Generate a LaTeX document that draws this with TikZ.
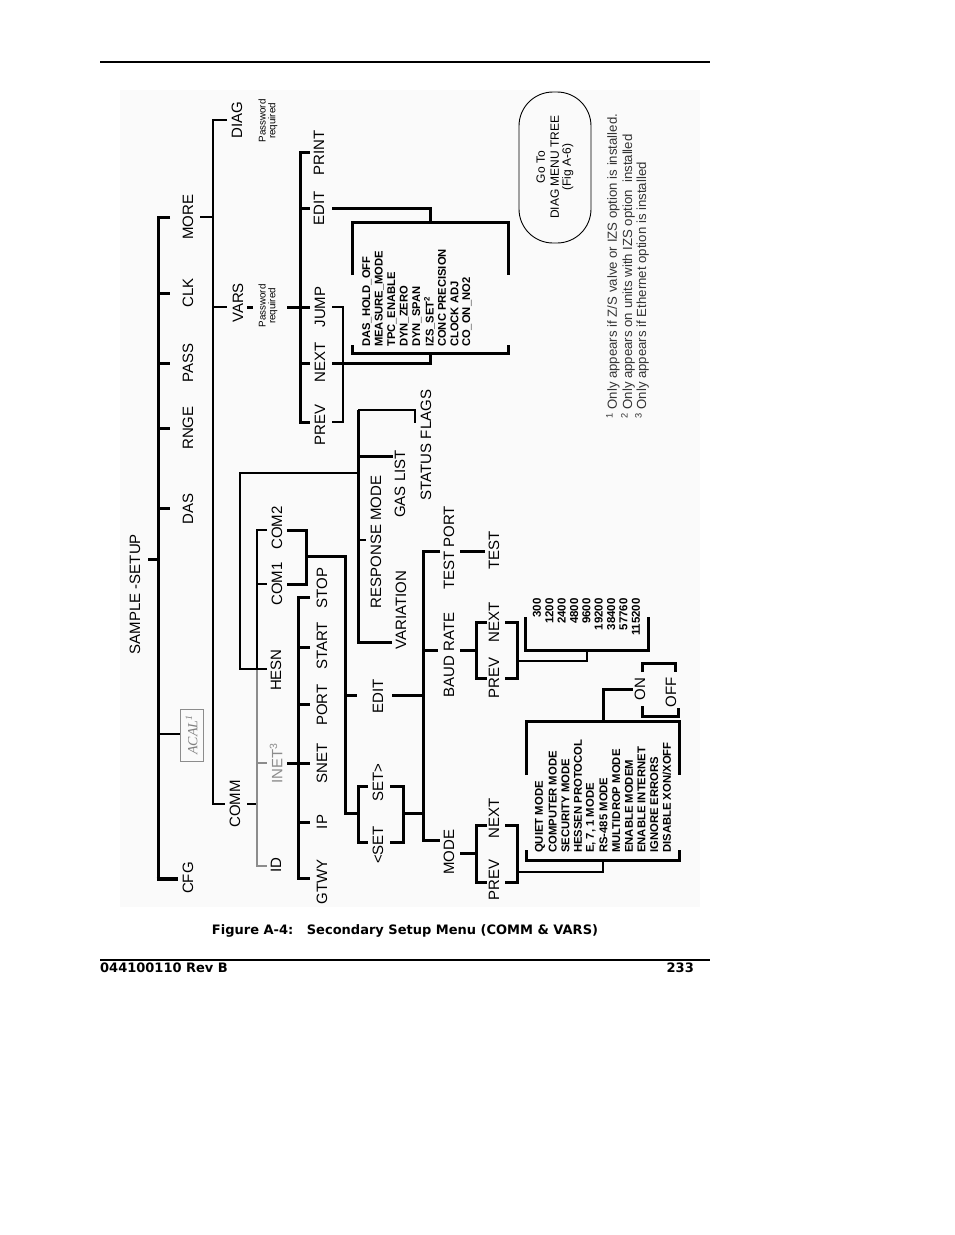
\documentclass[tikz,border=0pt]{standalone}
\usepackage{fontspec}
\setmainfont{Liberation Sans}
\newfontfamily\serfam{Liberation Serif}
\newfontfamily\capfam{DejaVu Sans}
\newcommand\myfs[1]{\fontsize{#1}{#1}\selectfont}
\begin{document}
\begin{tikzpicture}[x=1pt,y=-1pt,
  lbl/.style={rotate=90,inner sep=0pt,font=\myfs{15}},
  lst/.style={rotate=90,inner sep=0pt,anchor=west,font=\myfs{11.2}\bfseries},
  mlst/.style={rotate=90,inner sep=0pt,anchor=west,font=\myfs{11.3}\bfseries},
  num/.style={rotate=90,inner sep=0pt,anchor=east,font=\myfs{11.5}\bfseries},
  pw/.style={rotate=90,inner sep=0pt,align=center,font=\myfs{9.8}},
  fn/.style={rotate=90,inner sep=0pt,anchor=west,font=\myfs{13.2},text=black!80},
  ln/.style={line width=3pt},
  lnm/.style={line width=2.2pt},
  lng/.style={line width=2pt,draw=black!45},
  capf/.style={inner sep=0pt,font=\capfam\bfseries\myfs{13}},
]
\definecolor{figbg}{RGB}{250,250,250}
\useasboundingbox (0,0) rectangle (954,1235);
\fill[figbg] (120,90) rectangle (700,907);
\draw[line width=1.3pt] (100,62) -- (710,62);
\draw[line width=1.3pt] (100,960) -- (710,960);

% ---------- level 1 ----------
\node[lbl] (setup) at (135,594) {SAMPLE -SETUP};
\node[lbl] (more) at (188,217) {MORE};
\node[lbl] (clk) at (188,293) {CLK};
\node[lbl] (pass) at (188,363) {PASS};
\node[lbl] (rnge) at (188,428) {RNGE};
\node[lbl] (das) at (188,509) {DAS};
\node[lbl] (cfg) at (188,878) {CFG};
\draw[draw=black!45,line width=1pt] (180,709) rectangle (203,761);
\node[rotate=90,text=black!50,font=\serfam\itshape\myfs{14},inner sep=0pt] (acal) at (191.5,735) {ACAL\textsuperscript{1}};
\coordinate (acalin) at (180,734);

\draw[ln] (170,217) -- (158,217) -- (158,879);
\draw[line width=4pt] (156.5,879) -- (178,879);
\draw[ln] (158,293) -- (170,293);
\draw[ln] (158,363) -- (170,363);
\draw[ln] (158,428) -- (170,428);
\draw[ln] (158,508) -- (170,508);
\draw[ln] (148,559) -- (158,559);
\draw[lnm] (158,734) -- (acalin);

% ---------- level 2 ----------
\node[lbl] (diag) at (237,120) {DIAG};
\node[pw] (diagpw) at (268,121) {Password\\required};
\node[lbl] (vars) at (238,303) {VARS};
\node[pw] (varspw) at (268,306) {Password\\required};
\node[lbl] (comm) at (235,804) {COMM};

\draw[lnm] (200,217) -- (213,217);
\draw[lnm] (227,120) -- (213,120) -- (213,804) -- (225,804);
\draw[lnm] (213,307) -- (227,307);
\draw[ln] (247,307) -- (253,307);
\draw[ln] (287,307) -- (300,307);

% ---------- VARS subtree ----------
\node[lbl] (print) at (319,153) {PRINT};
\node[lbl] (editv) at (319,208) {EDIT};
\node[lbl] (jump) at (320,307) {JUMP};
\node[lbl] (nextv) at (320,362) {NEXT};
\node[lbl] (prevv) at (320,425) {PREV};

\draw[ln] (310,152) -- (300,152) -- (300,422) -- (310,422);
\draw[ln] (300,208) -- (310,208);
\draw[ln] (300,307) -- (310,307);
\draw[ln] (300,363) -- (310,363);
\draw[ln] (332,208) -- (430,208) -- (430,222);
\draw[ln] (332,363) -- (430,363) -- (430,353);
\draw[line width=2.5pt] (332,307) -- (343,307) -- (343,422) -- (332,422);
\draw[ln] (352,275) -- (352,222) -- (508,222) -- (508,275);
\draw[ln] (352,345) -- (352,353) -- (508,353) -- (508,345);

\foreach \t [count=\i from 0] in {DAS\_HOLD\_OFF, MEASURE\_MODE, TPC\_ENABLE, DYN\_ZERO, DYN\_SPAN,
    IZS\_SET\textsuperscript{2}, CONC PRECISION, CLOCK ADJ, CO\_ON\_NO2}
  \node[lst] (v\i) at ({367+12.5*\i},347) {\t};

% ---------- DIAG oval + footnotes ----------
\draw[line width=0.9pt,rounded corners=34pt] (519,92) rectangle (591,243);
\node[rotate=90,inner sep=0pt,align=center,font=\myfs{12}] (goto) at (555,167)
  {Go To\\[2pt]DIAG MENU TREE\\(Fig A-6)};
\node[fn] (fn1) at (613,419) {\textsuperscript{1} Only appears if Z/S valve or IZS option is installed.};
\node[fn] (fn2) at (628,419) {\textsuperscript{2} Only appears on units with IZS option\ \ installed};
\node[fn] (fn3) at (642,419) {\textsuperscript{3} Only appears if Ethernet option is installed};

% ---------- COMM subtree ----------
\node[lbl] (com2) at (277,528) {COM2};
\node[lbl] (com1) at (277,584) {COM1};
\node[lbl] (hesn) at (276,670) {HESN};
\node[lbl,text=black!45] (inet) at (276,763) {INET\textsuperscript{3}};
\node[lbl] (id) at (276,865) {ID};

\draw[lnm] (247,804) -- (257,804);
\draw[lnm] (267,530) -- (257,530) -- (257,669);
\draw[lng] (257,669) -- (257,866) -- (267,866);
\draw[lng] (257,763) -- (267,763);
\draw[lnm] (257,584) -- (267,584);
\draw[lnm] (267,669) -- (240,669) -- (240,473) -- (358,473);
\draw[ln] (287,530) -- (306,530) -- (306,584) -- (287,584);
\draw[ln] (306,556) -- (345,556) -- (345,813) -- (358,813);
\draw[ln] (345,695) -- (357,695);

% INET children
\node[lbl] (stop) at (322,588) {STOP};
\node[lbl] (start) at (322,646) {START};
\node[lbl] (port) at (322,705) {PORT};
\node[lbl] (snet) at (322,763) {SNET};
\node[lbl] (ip) at (322,822) {IP};
\node[lbl] (gtwy) at (322,882) {GTWY};

\draw[ln] (287,763) -- (298,763);
\draw[ln] (310,597) -- (298,597) -- (298,878) -- (310,878);
\foreach \yy in {647,704,763,822} \draw[ln] (298,\yy) -- (310,\yy);

% HESN children
\node[lbl] (status) at (426,445) {STATUS FLAGS};
\node[lbl] (gas) at (400,484) {GAS LIST};
\node[lbl] (resp) at (376,542) {RESPONSE MODE};
\node[lbl] (varia) at (401,610) {VARIATION};

\draw[ln] (358,410) -- (358,642) -- (392,642);
\draw[lnm] (358,410) -- (415,410) -- (415,423);
\draw[ln] (358,456) -- (393,456);
\draw[lnm] (358,540) -- (366,540);

% EDIT (COMM) subtree
\node[lbl] (edit2) at (378,696) {EDIT};
\node[lbl] (setr) at (378,783) {SET>};
\node[lbl] (setl) at (378,845) {<SET};

\draw[ln] (368,786) -- (358,786) -- (358,842) -- (368,842);
\draw[ln] (390,786) -- (403,786) -- (403,842) -- (390,842);
\draw[ln] (403,813) -- (423,813);
\draw[ln] (392,695) -- (423,695);
\draw[ln] (440,551) -- (423,551) -- (423,840) -- (440,840);
\draw[ln] (423,650) -- (438,650);

\node[lbl] (testport) at (449,548) {TEST PORT};
\node[lbl] (test) at (494,550) {TEST};
\node[lbl] (baud) at (449,655) {BAUD RATE};
\node[lbl] (nextb) at (494,622) {NEXT};
\node[lbl] (prevb) at (494,678) {PREV};
\node[lbl] (mode) at (449,852) {MODE};
\node[lbl] (nextm) at (494,818) {NEXT};
\node[lbl] (prevm) at (494,880) {PREV};

\draw[ln] (460,551) -- (485,551);
% baud
\draw[ln] (460,650) -- (476,650);
\draw[ln] (487,622) -- (476,622) -- (476,678) -- (487,678);
\draw[ln] (505,622) -- (517,622) -- (517,678) -- (505,678);
\draw[lnm] (517,661) -- (587,661) -- (587,650);
\draw[ln] (525,617) -- (525,650) -- (648,650) -- (648,617);
\foreach \t [count=\i from 0] in {300,1200,2400,4800,9600,19200,38400,57760,115200}
  \node[num] (b\i) at ({537+12.35*\i},598) {\t};

% mode
\draw[ln] (460,853) -- (476,853);
\draw[ln] (487,825) -- (476,825) -- (476,882) -- (487,882);
\draw[ln] (505,825) -- (517,825) -- (517,882) -- (505,882);
\draw[lnm] (517,872) -- (603,872) -- (603,860);
\draw[ln] (526,775) -- (526,721) -- (679,721) -- (679,775);
\draw[ln] (526,850) -- (526,860) -- (679,860) -- (679,850);
\draw[ln] (603,721) -- (603,689) -- (633,689);
\foreach \t [count=\i from 0] in {QUIET MODE, COMPUTER MODE, SECURITY MODE, HESSEN PROTOCOL,
    {E, 7, 1 MODE}, RS-485 MODE, MULTIDROP MODE, ENABLE MODEM, ENABLE INTERNET,
    IGNORE ERRORS, DISABLE XON/XOFF}
  \node[mlst] (m\i) at ({540+12.7*\i},853) {\t};

% ON / OFF
\node[lbl] (on) at (640,689) {ON};
\node[lbl] (off) at (671,692) {OFF};
\draw[ln] (642,672) -- (642,663) -- (675,663) -- (675,672);
\draw[ln] (642,706) -- (642,716) -- (678,716) -- (678,708);

% ---------- caption and footer ----------
\node[capf] (cap) at (405,931)
  {Figure A-4:\ \ \ Secondary Setup Menu (COMM \& VARS)};
\node[capf,anchor=west] (docno) at (100,968) {044100110 Rev B};
\node[capf,anchor=east] (page) at (694,968) {233};
\end{tikzpicture}
\end{document}
